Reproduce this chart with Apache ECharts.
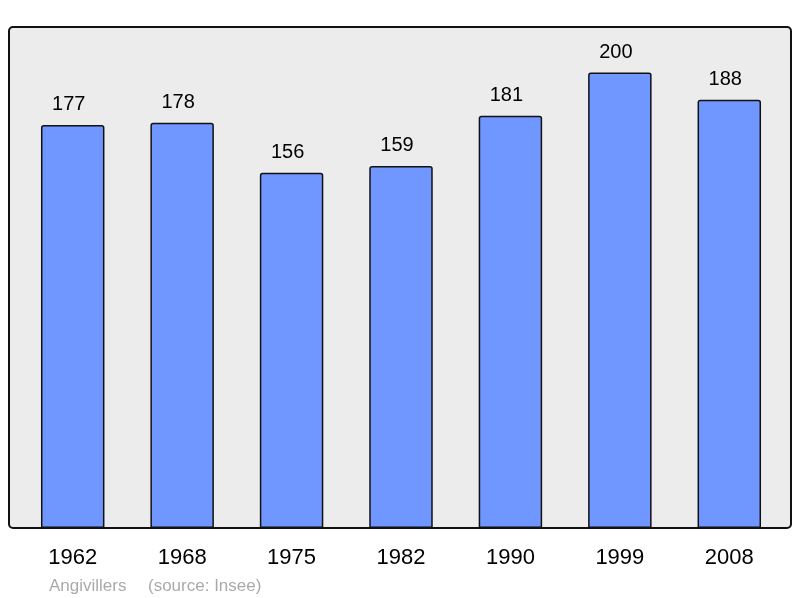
<!DOCTYPE html>
<html>
<head>
<meta charset="utf-8">
<script src="https://cdn.jsdelivr.net/npm/echarts@6/dist/echarts.min.js"></script>
<style>
  html, body { margin: 0; padding: 0; background: #fff; }
  #chart { width: 800px; height: 598px; }
</style>
</head>
<body>
<div id="chart"></div>
<script>
  // population per census year
  const years = ['1962', '1968', '1975', '1982', '1990', '1999', '2008'];
  const population = [177, 178, 156, 159, 181, 200, 188];
  const yMin = 0;
  const yMax = 220;
  const commune = 'Angivillers';
  const source = '(source: Insee)';

  const myChart = echarts.init(document.getElementById('chart'));
  const option = {
    animation: false,
    textStyle: { fontFamily: 'Liberation Sans, Arial, sans-serif' },
    grid: { left: 18, right: 16, top: 27, bottom: 70 },
    graphic: [
      {
        type: 'rect', z: -10, silent: true,
        shape: { x: 9, y: 27, width: 782, height: 501, r: 4 },
        style: { fill: '#ececec', stroke: null }
      },
      {
        type: 'rect', z: 100, silent: true,
        shape: { x: 9, y: 27, width: 782, height: 501, r: 4 },
        style: { fill: null, stroke: '#111', lineWidth: 2 }
      },
      {
        type: 'text', left: 49, top: 578, silent: true,
        style: { text: commune, fill: '#aaaaaa', font: '17px Liberation Sans, Arial, sans-serif' }
      },
      {
        type: 'text', left: 148, top: 578, silent: true,
        style: { text: source, fill: '#aaaaaa', font: '17px Liberation Sans, Arial, sans-serif' }
      }
    ],
    xAxis: {
      type: 'category',
      data: years,
      axisLine: { show: false },
      axisTick: { show: false },
      axisLabel: { color: '#000', fontSize: 22, margin: 19 }
    },
    yAxis: {
      type: 'value',
      min: yMin,
      max: yMax,
      show: false,
      splitLine: { show: false }
    },
    series: [
      {
        type: 'bar',
        data: population,
        barWidth: '58%',
        itemStyle: {
          color: '#7096ff',
          borderColor: '#111',
          borderWidth: 1.5,
          borderRadius: [2, 2, 0, 0]
        },
        label: {
          show: true,
          position: 'top',
          distance: 10,
          offset: [-4, 0],
          color: '#000',
          fontSize: 20
        }
      }
    ]
  };
  myChart.setOption(option);
</script>
</body>
</html>
